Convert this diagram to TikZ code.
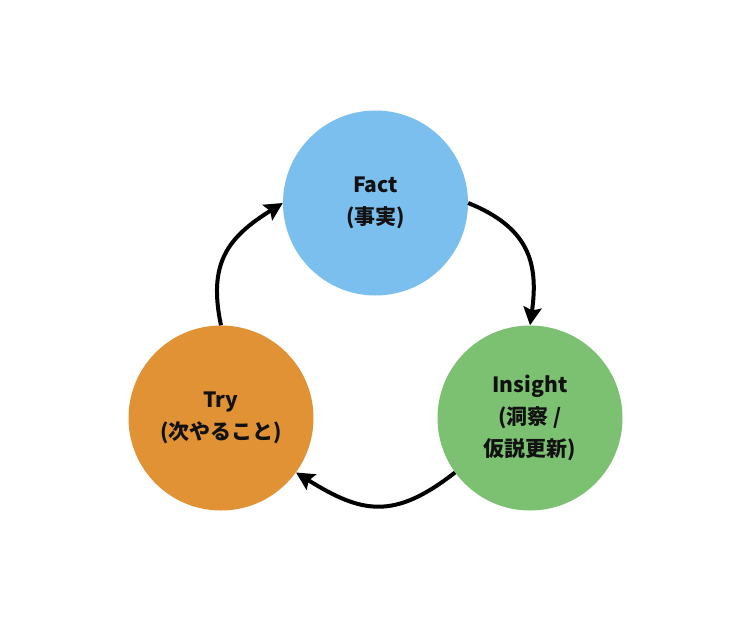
\documentclass[tikz,border=0pt]{standalone}
\usepackage{fontspec}
\setmainfont{Noto Sans CJK JP}
\usetikzlibrary{arrows.meta}
\definecolor{factblue}{HTML}{7BBFEE}
\definecolor{insightgreen}{HTML}{7CC171}
\definecolor{tryorange}{HTML}{E09235}
\definecolor{txt}{HTML}{111111}
\begin{document}
\begin{tikzpicture}[x=1pt,y=-1pt,
  stage/.style={circle, minimum size=185pt, inner sep=0pt, text=txt, align=center,
    font=\fontsize{21}{32}\selectfont\bfseries},
  cyc/.style={line width=4pt, -{Stealth[length=18pt,width=18pt,inset=3pt]}}]
\fill[white] (0,0) rectangle (750,643);
\useasboundingbox (0,0) rectangle (750,643);
\node[stage, fill=factblue] (fact) at (375.5,203) {Fact\\(事実)};
\node[stage, fill=insightgreen] (insight) at (530,418) {Insight\\(洞察 /\\仮説更新)};
\node[stage, fill=tryorange] (try) at (221,418) {Try\\(次やること)};
\draw[cyc] (fact.east) to[out=-22, in=82, looseness=1.2] (insight.north);
\draw[cyc] (insight.216) to[out=218, in=-32, looseness=1.25] (try.324);
\draw[cyc] (try.north) to[out=102, in=212, looseness=1.2] (fact.west);
\end{tikzpicture}
\end{document}
